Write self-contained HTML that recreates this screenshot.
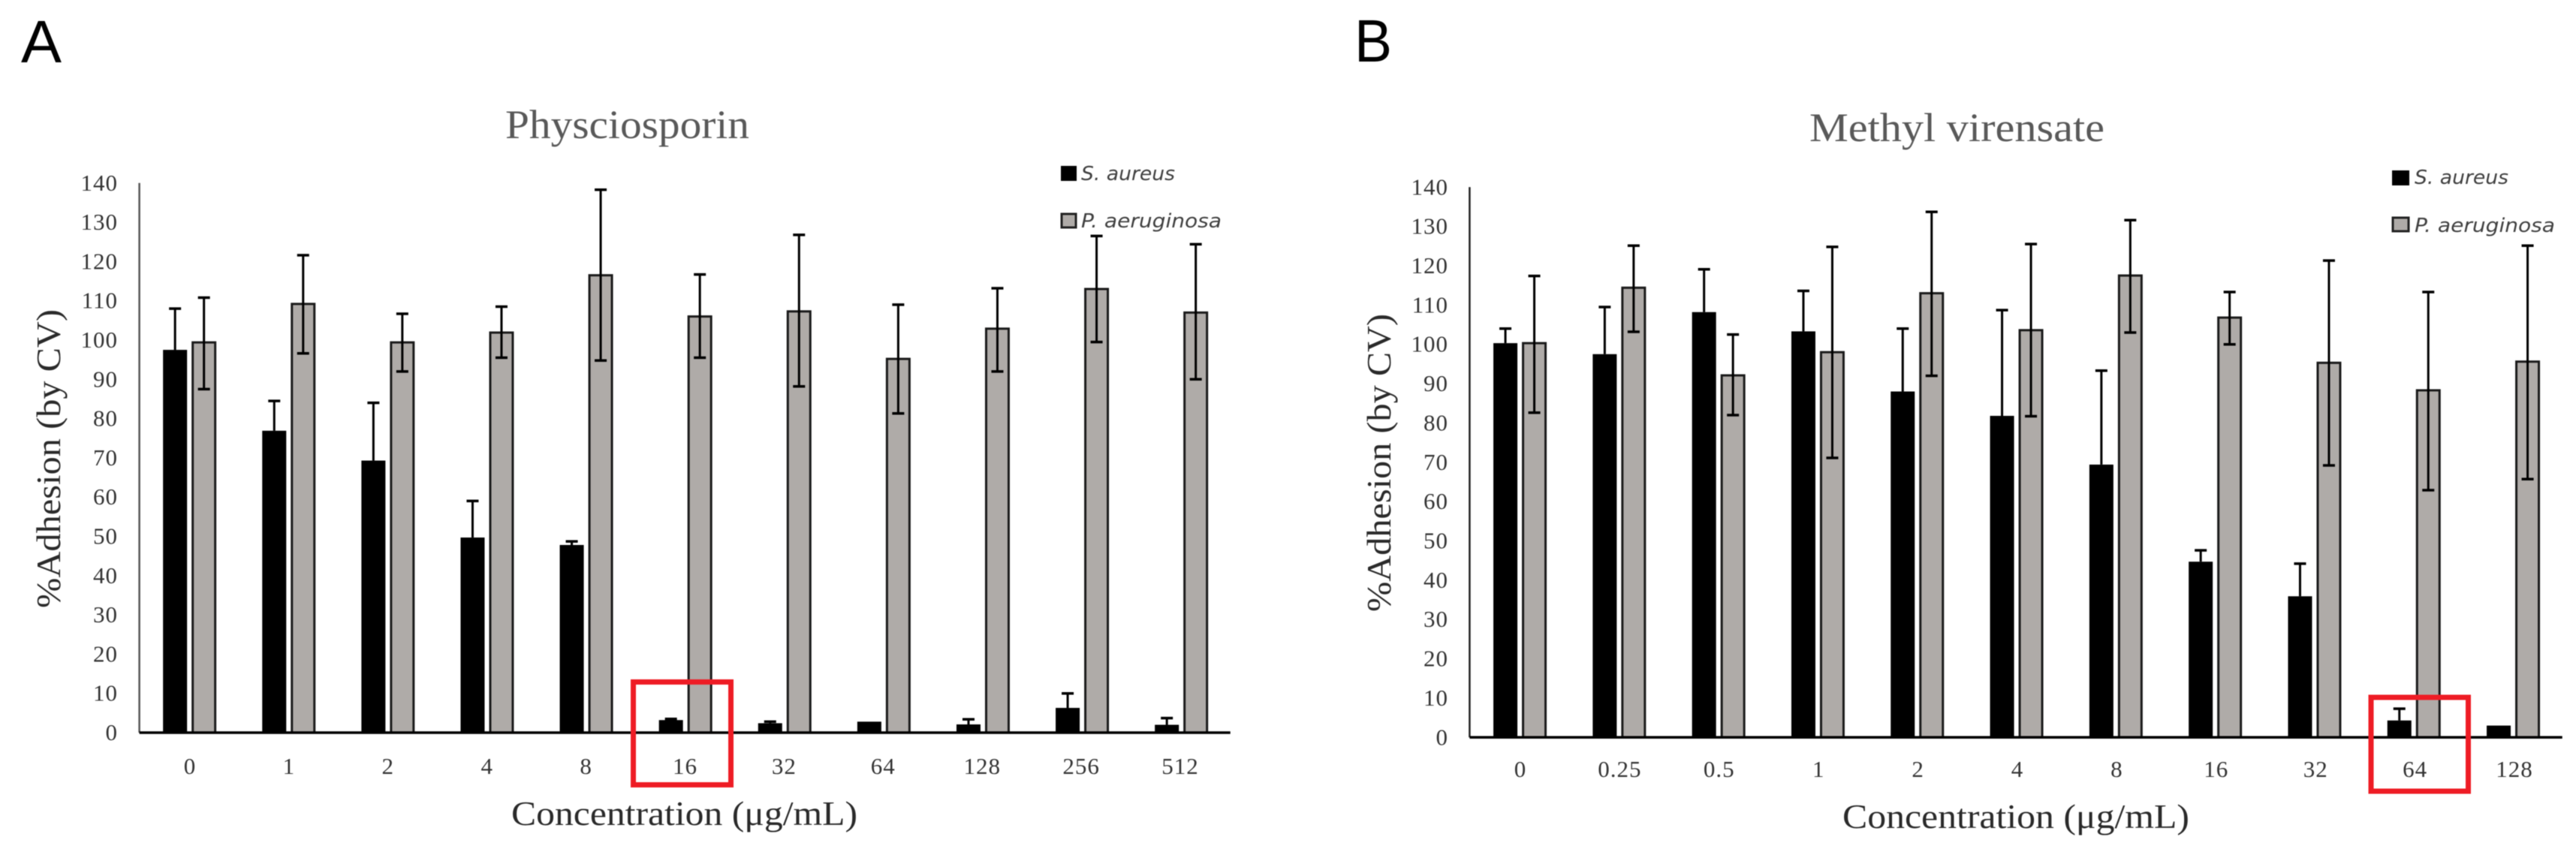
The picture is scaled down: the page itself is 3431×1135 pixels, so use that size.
<!DOCTYPE html>
<html lang="en">
<head>
<meta charset="utf-8">
<title>Adhesion charts</title>
<style>
  html, body { margin: 0; padding: 0; background: #fff; }
  svg { display: block; filter: blur(0.5px); }
  .serif { font-family: "Liberation Serif", serif; }
  .sans { font-family: "Liberation Sans", sans-serif; }
  .legend { font-family: "DejaVu Sans", sans-serif; font-style: italic; font-size: 26px; fill: #404040; }
  .tick { font-family: "Liberation Serif", serif; font-size: 31px; letter-spacing: 1px; fill: #333; }
  .title { font-size: 54px; fill: #595959; }
  .axis-title { font-size: 45px; fill: #2a2a2a; }
</style>
</head>
<body>
<svg id="figure" xmlns="http://www.w3.org/2000/svg" width="3431" height="1135" viewBox="0 0 3431 1135">
  <rect width="3431" height="1135" fill="#fff"/>

  <g id="panel-a">
    <text class="sans" x="28" y="83" font-size="80" fill="#000" textLength="54" lengthAdjust="spacingAndGlyphs">A</text>
    <text class="serif title" x="673" y="184" textLength="325" lengthAdjust="spacingAndGlyphs">Physciosporin</text>
    <text class="serif axis-title" transform="translate(80 810) rotate(-90)" textLength="398" lengthAdjust="spacingAndGlyphs">%Adhesion (by CV)</text>
    <text class="serif axis-title" x="681" y="1099" textLength="461" lengthAdjust="spacingAndGlyphs">Concentration (μg/mL)</text>
    <rect x="1413" y="221" width="21" height="20" fill="#000"/>
    <text class="legend" x="1440" y="240" textLength="125" lengthAdjust="spacingAndGlyphs">S. aureus</text>
    <rect x="1414" y="285" width="19" height="18" fill="#afaba8" stroke="#222" stroke-width="3"/>
    <text class="legend" x="1440" y="303" textLength="187" lengthAdjust="spacingAndGlyphs">P. aeruginosa</text>
  </g>

  <g id="panel-b">
    <text class="sans" x="1804" y="82" font-size="80" fill="#000" textLength="50" lengthAdjust="spacingAndGlyphs">B</text>
    <text class="serif title" x="2410" y="188" textLength="393" lengthAdjust="spacingAndGlyphs">Methyl virensate</text>
    <text class="serif axis-title" transform="translate(1852 815) rotate(-90)" textLength="397" lengthAdjust="spacingAndGlyphs">%Adhesion (by CV)</text>
    <text class="serif axis-title" x="2454" y="1103" textLength="462" lengthAdjust="spacingAndGlyphs">Concentration (μg/mL)</text>
    <rect x="3186" y="227" width="23" height="20" fill="#000"/>
    <text class="legend" x="3216" y="245" textLength="125" lengthAdjust="spacingAndGlyphs">S. aureus</text>
    <rect x="3187" y="290" width="21" height="18" fill="#afaba8" stroke="#222" stroke-width="3"/>
    <text class="legend" x="3216" y="309" textLength="187" lengthAdjust="spacingAndGlyphs">P. aeruginosa</text>
  </g>
</svg>

<script>
// Shared value axis
const yTickLabels = [0, 10, 20, 30, 40, 50, 60, 70, 80, 90, 100, 110, 120, 130, 140];

// Chart A: Physciosporin
const categoriesA = ["0", "1", "2", "4", "8", "16", "32", "64", "128", "256", "512"];
const saureusA = [97.5, 76.9, 69.3, 49.7, 47.8, 3.2, 2.4, 2.8, 2.1, 6.3, 2.0];
const saureusErrTopA = [108, 84.5, 84, 59, 48.7, 3.5, 2.8, 2.8, 3.4, 10, 3.7];
const paeruginosaA = [99.4, 109.2, 99.4, 101.9, 116.5, 106, 107.3, 95.2, 102.9, 113, 107];
const paeruginosaErrTopA = [110.8, 121.6, 106.7, 108.5, 138.3, 116.7, 126.8, 109, 113.2, 126.5, 124.4];
const paeruginosaErrBottomA = [87.5, 96.6, 92, 95.5, 94.8, 95.5, 88.2, 81.3, 92, 99.5, 90];

// Chart B: Methyl virensate
const categoriesB = ["0", "0.25", "0.5", "1", "2", "4", "8", "16", "32", "64", "128"];
const saureusB = [100.3, 97.5, 108.2, 103.3, 88, 81.8, 69.4, 44.7, 35.9, 4.3, 3];
const saureusErrTopB = [104, 109.5, 119.1, 113.6, 104, 108.7, 93.3, 47.6, 44.2, 7.3, 3];
const paeruginosaB = [100.3, 114.4, 92.1, 98, 113, 103.6, 117.5, 106.8, 95.3, 88.3, 95.6];
const paeruginosaErrTopB = [117.4, 125.1, 102.5, 124.8, 133.7, 125.5, 131.6, 113.3, 121.3, 113.3, 125.1];
const paeruginosaErrBottomB = [82.6, 103.2, 82, 71.1, 92, 81.7, 103, 100, 69.2, 62.9, 65.7];

const SVG_NS = "http://www.w3.org/2000/svg";

function make(parent, tag, attrs) {
  const el = document.createElementNS(SVG_NS, tag);
  for (const k in attrs) el.setAttribute(k, attrs[k]);
  parent.appendChild(el);
  return el;
}

function drawChart(cfg) {
  const root = document.getElementById(cfg.rootId);
  const yScale = v => cfg.y0 - v * cfg.pxPerUnit;
  const xBand = i => cfg.axisX + cfg.band * (i + 0.5);
  const xLabel = i => cfg.label0 + cfg.labelStep * i;
  const n = cfg.categories.length;

  // bars first
  for (let i = 0; i < n; i++) {
    const c = xBand(i);

    const blackTop = yScale(cfg.sa[i]);
    const blackBar = make(root, "rect", { x: c - 34.5, y: blackTop, width: 32, height: cfg.y0 - blackTop, fill: "#000" });
    
    

    const errTop = yScale(cfg.saErr[i]);
    if (errTop < blackTop) {
      const bx = c - 18.5;
      const saStem = make(root, "line", { x1: bx, x2: bx, y1: blackTop, y2: errTop, stroke: "#000", "stroke-width": 3 });
      
      
      const saCap = make(root, "line", { x1: bx - 8, x2: bx + 8, y1: errTop, y2: errTop, stroke: "#000", "stroke-width": 3.5 });
      
      
    }

    const grayTop = yScale(cfg.pa[i]);
    const grayBar = make(root, "rect", { x: c + 5, y: grayTop, width: 30, height: cfg.y0 - grayTop, fill: "#afaba8", stroke: "#1a1a1a", "stroke-width": 3 });
    
    

    const gx = c + 20;
    const gTop = yScale(cfg.paErrTop[i]);
    const gBottom = yScale(cfg.paErrBottom[i]);
    const paStem = make(root, "line", { x1: gx, x2: gx, y1: gBottom, y2: gTop, stroke: "#000", "stroke-width": 3 });
    
    
    const paCapTop = make(root, "line", { x1: gx - 8, x2: gx + 8, y1: gTop, y2: gTop, stroke: "#000", "stroke-width": 3.5 });
    
    
    const paCapBottom = make(root, "line", { x1: gx - 8, x2: gx + 8, y1: gBottom, y2: gBottom, stroke: "#000", "stroke-width": 3.5 });
    
    
  }

  // axes
  const yAxis = make(root, "line", { x1: cfg.axisX, x2: cfg.axisX, y1: yScale(140), y2: cfg.y0, stroke: cfg.yAxisColor, "stroke-width": 2.5 });
  
  
  const xAxis = make(root, "line", { x1: cfg.axisX, x2: cfg.axisX + cfg.band * n, y1: cfg.y0, y2: cfg.y0, stroke: "#000", "stroke-width": 3.5 });
  
  

  // y tick labels
  yTickLabels.forEach(v => {
    const t = make(root, "text", { class: "tick", x: cfg.yLabelRight, y: yScale(v) + 10, "text-anchor": "end" });
    
    
    t.textContent = v;
  });

  // x tick labels
  cfg.categories.forEach((label, i) => {
    const t = make(root, "text", { class: "tick", x: xLabel(i), y: cfg.xLabelY, "text-anchor": "middle" });
    
    
    t.textContent = label;
  });

  // highlight box around a category
  const b = cfg.box;
  const box = make(root, "rect", { x: b.x, y: b.y, width: b.w, height: b.h, fill: "none", stroke: "#ee1c25", "stroke-width": 7 });
  
  
}

drawChart({
  rootId: "panel-a",
  categories: categoriesA,
  sa: saureusA, saErr: saureusErrTopA,
  pa: paeruginosaA, paErrTop: paeruginosaErrTopA, paErrBottom: paeruginosaErrBottomA,
  axisX: 185.6, band: 132.1, y0: 976, pxPerUnit: 5.23,
  label0: 253, labelStep: 131.9, xLabelY: 1031, yLabelRight: 157,
  yAxisColor: "#555",
  box: { x: 843.5, y: 908.5, w: 130, h: 137 }
});

drawChart({
  rootId: "panel-b",
  categories: categoriesB,
  sa: saureusB, saErr: saureusErrTopB,
  pa: paeruginosaB, paErrTop: paeruginosaErrTopB, paErrBottom: paeruginosaErrBottomB,
  axisX: 1957.4, band: 132.3, y0: 982.3, pxPerUnit: 5.236,
  label0: 2025, labelStep: 132.4, xLabelY: 1035, yLabelRight: 1929,
  yAxisColor: "#222",
  box: { x: 3158, y: 929, w: 129.5, h: 125 }
});
</script>
</body>
</html>
